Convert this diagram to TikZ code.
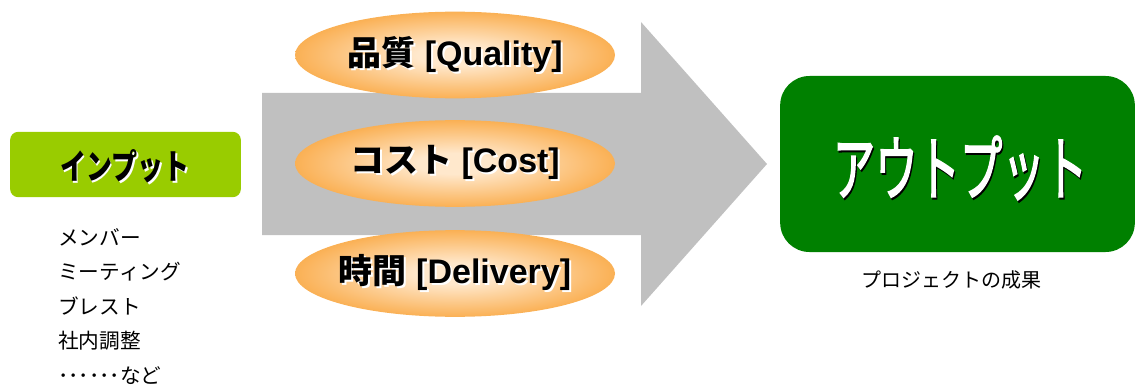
\documentclass[tikz,border=0pt]{standalone}
\usepackage{fontspec}
\setmainfont{Liberation Sans}
\newfontfamily\jp{Noto Sans CJK JP}
\newfontfamily\jpthick[FakeBold=2.5]{Noto Sans CJK JP}
\usetikzlibrary{shapes.geometric}
\definecolor{inputgreen}{HTML}{99CC00}
\definecolor{outputgreen}{HTML}{008000}
\definecolor{arrowgray}{HTML}{C0C0C0}
\definecolor{ovalin}{HTML}{FFE8CC}
\definecolor{ovalout}{HTML}{F8961C}
\pgfdeclareradialshading{ovalshade}{\pgfpoint{0bp}{0bp}}{color(0bp)=(ovalin); color(6bp)=(ovalin); color(34bp)=(ovalout); color(50bp)=(ovalout)}
\newcommand{\shadowtext}[3] {\rlap{\hspace{1.5pt}\raisebox{-1.5pt}{\color{#2}#3}}{\color{#1}#3}}
\newcommand{\qcdnode}[3] {\node at (#1) (#2) [ellipse, shading=ovalshade, minimum width=240pt, minimum height=65pt, inner sep=0pt, font=\fontsize{25.5}{30}\selectfont\bfseries] {\makebox[0pt]{\shadowtext{black}{white}{#3}}};}
\newcommand{\boxnode}[6] {\node at (#1) (#2) [fill=#3, rounded corners=#4, minimum width=#5, minimum height=#6, inner sep=0pt] {};}

\begin{document}
\begin{tikzpicture}[x=0.75pt, y=-0.75pt]
\useasboundingbox (0,0) rectangle (1135,385);

\draw [draw=none, fill=arrowgray] (262,93) -- (641,93) -- (641,22) -- (767,164) -- (641,306) -- (641,235) -- (262,235) -- cycle;

\qcdnode {455,55} {quality} {{\jp 品質} [Quality]};
\qcdnode {455,163.5} {cost} {{\jp コスト} [Cost]};
\qcdnode {455,273.5} {delivery} {{\jp 時間} [Delivery]};

\boxnode {125.5,164.5} {input} {inputgreen} {6pt} {173pt} {49pt};
\node at (125,167) (inputtext) [xscale=0.75, font=\jp\fontsize{26}{30}\selectfont\bfseries] {\shadowtext{black}{white}{インプット}};
\node at (58,228) (inputlist) [anchor=north west, inner sep=0pt, align=left, font=\jp\fontsize{15.5}{25.9}\selectfont] {メンバー\\ミーティング\\ブレスト\\社内調整\\･･････など};

\boxnode {957.5,164} {output} {outputgreen} {22pt} {266pt} {132pt};
\node at (960,169) (outputtext) [xscale=0.6, font=\jpthick\fontsize{53}{56}\selectfont] {\shadowtext{white}{black}{アウトプット}};
\node at (951,280) (outcome) [font=\jp\fontsize{15}{18}\selectfont] {プロジェクトの成果};

%\node at (455,360) {QCD};
\end{tikzpicture}
\end{document}
